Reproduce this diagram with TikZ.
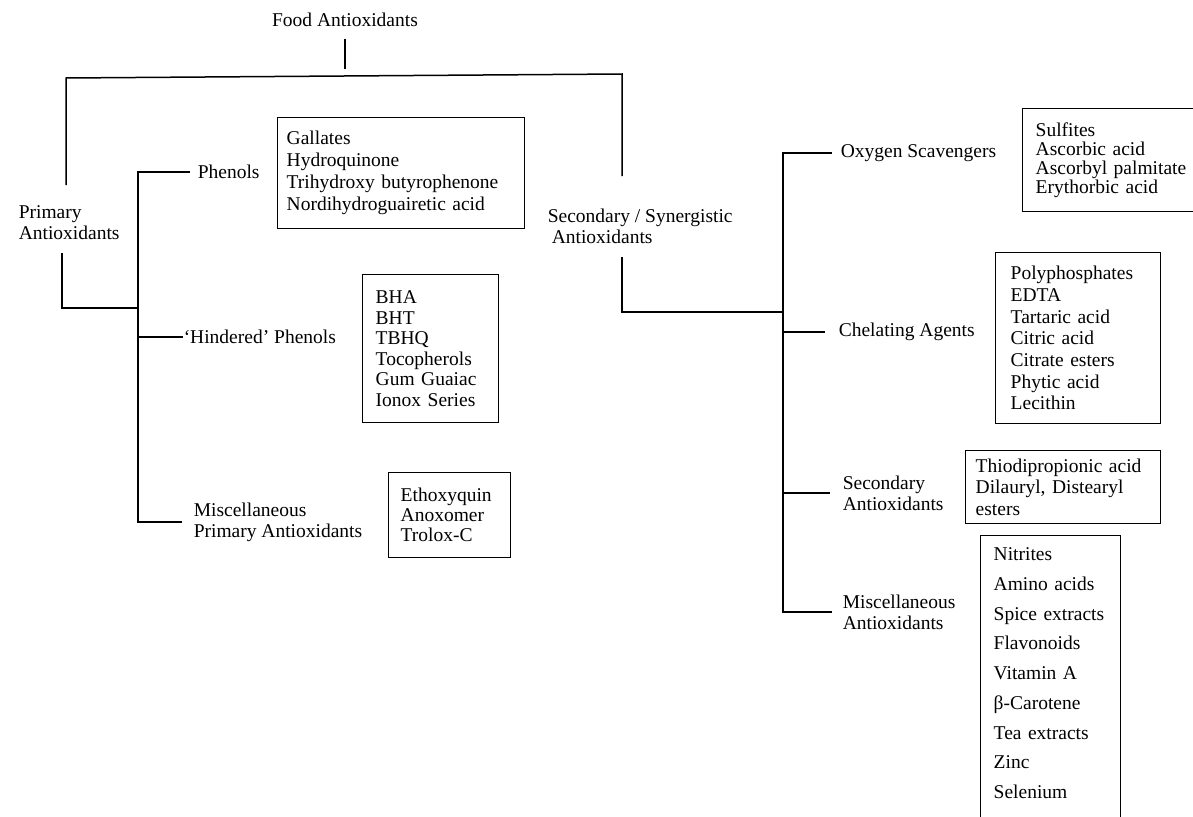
\documentclass[tikz,border=0pt]{standalone}
\usepackage{fontspec}
\setmainfont{Liberation Serif}
\usetikzlibrary{calc}
\begin{document}
\begin{tikzpicture}[x=1pt,y=-1pt,line width=1.5pt,
  lbl/.style={font=\fontsize{19.5}{21}\selectfont, inner sep=0pt, anchor=west, align=left},
  ibox/.style={draw, line width=1.4pt, anchor=north west, inner ysep=0pt, align=left}
]
\useasboundingbox (0,0) rectangle (1193,816);
\clip (0,0) rectangle (1193,816);
\fill[white] (0,0) rectangle (1193,816);

% ---- top level ----
\node[lbl, anchor=center] (food) at (345,20) {Food Antioxidants};
\node[lbl] (prim) at (18,223) {Primary\\Antioxidants};
\node[lbl] (sec) at (547,226) {Secondary / Synergistic\\\hspace*{4pt}Antioxidants};

\coordinate (foodend) at (345,69);
\coordinate (barL) at (66,78);
\coordinate (barR) at (622,74);
\coordinate (primtop) at (66,185);
\coordinate (sectop) at (622,176);
\draw ([yshift=-11pt]food.south) -- (foodend);
\draw (primtop) -- (barL) -- (barR) -- (sectop);

% ---- primary branch ----
\coordinate (lspT) at (138,172);
\coordinate (primbot) at (62,253);
\coordinate (primcorner) at (62,308);
\node[lbl] (phen) at (197,172) {Phenols};
\node[lbl] (hind) at (183,337) {‘Hindered’ Phenols};
\node[lbl] (misc1) at (193,522) {Miscellaneous\\Primary Antioxidants};
\draw ([xshift=-7pt]phen.west) -- (phen.west -| lspT) -- (misc1.west -| lspT) -- ([xshift=-11pt]misc1.west);
\draw (hind.west -| lspT) -- (hind.west);
\draw (primbot) -- (primcorner) -- (primcorner -| lspT);

\node[ibox, font=\fontsize{19.5}{22}\selectfont, minimum width=247pt, minimum height=111pt, text width=229pt, inner xsep=9pt] (pbox) at (277,117)
  {Gallates\\Hydroquinone\\Trihydroxy butyrophenone\\Nordihydroguairetic acid};
\node[ibox, font=\fontsize{19.5}{20.5}\selectfont, minimum width=136pt, minimum height=148pt, text width=110pt, inner xsep=13pt] (hbox) at (362,274)
  {BHA\\BHT\\TBHQ\\Tocopherols\\Gum Guaiac\\Ionox Series};
\node[ibox, font=\fontsize{19.5}{20}\selectfont, minimum width=122pt, minimum height=85pt, text width=98pt, inner xsep=12pt] (mbox) at (388,472)
  {Ethoxyquin\\Anoxomer\\Trolox-C};

% ---- secondary branch ----
\coordinate (secbot) at (622,257);
\coordinate (seccorner) at (622,312);
\coordinate (rspT) at (783,153);
\node[lbl] (oxy) at (840,153) {Oxygen Scavengers};
\node[lbl] (chel) at (838,332) {Chelating Agents};
\node[lbl] (sec2) at (842,493) {Secondary\\Antioxidants};
\node[lbl] (misc2) at (842,612) {Miscellaneous\\Antioxidants};
\draw (secbot) -- (seccorner) -- (seccorner -| rspT);
\draw ([xshift=-8pt]oxy.west) -- (oxy.west -| rspT) -- (misc2.west -| rspT) -- ([xshift=-10pt]misc2.west);
\draw (chel.west -| rspT) -- ([xshift=-13pt]chel.west);
\draw (sec2.west -| rspT) -- ([xshift=-12pt]sec2.west);

\node[ibox, font=\fontsize{19.5}{18.7}\selectfont, minimum width=200pt, minimum height=103pt, text width=174pt, inner xsep=13pt] (obox) at (1022,108)
  {Sulfites\\Ascorbic acid\\Ascorbyl palmitate\\Erythorbic acid};
\node[ibox, font=\fontsize{19.5}{21.7}\selectfont, minimum width=165pt, minimum height=171pt, text width=135pt, inner xsep=15pt] (cbox) at (995,252)
  {Polyphosphates\\EDTA\\Tartaric acid\\Citric acid\\Citrate esters\\Phytic acid\\Lecithin};
\node[ibox, font=\fontsize{19.5}{21.5}\selectfont, minimum width=195pt, minimum height=73pt, text width=175pt, inner xsep=10pt] (tbox) at (965,450)
  {Thiodipropionic acid\\Dilauryl, Distearyl\\esters};
\node[ibox, font=\fontsize{19.5}{29.75}\selectfont, minimum width=140pt, text width=114pt, inner xsep=13pt, inner ysep=12pt] (mabox) at (980,535)
  {Nitrites\\Amino acids\\Spice extracts\\Flavonoids\\Vitamin A\\β-Carotene\\Tea extracts\\Zinc\\Selenium\\\mbox{}};
\end{tikzpicture}
\end{document}
